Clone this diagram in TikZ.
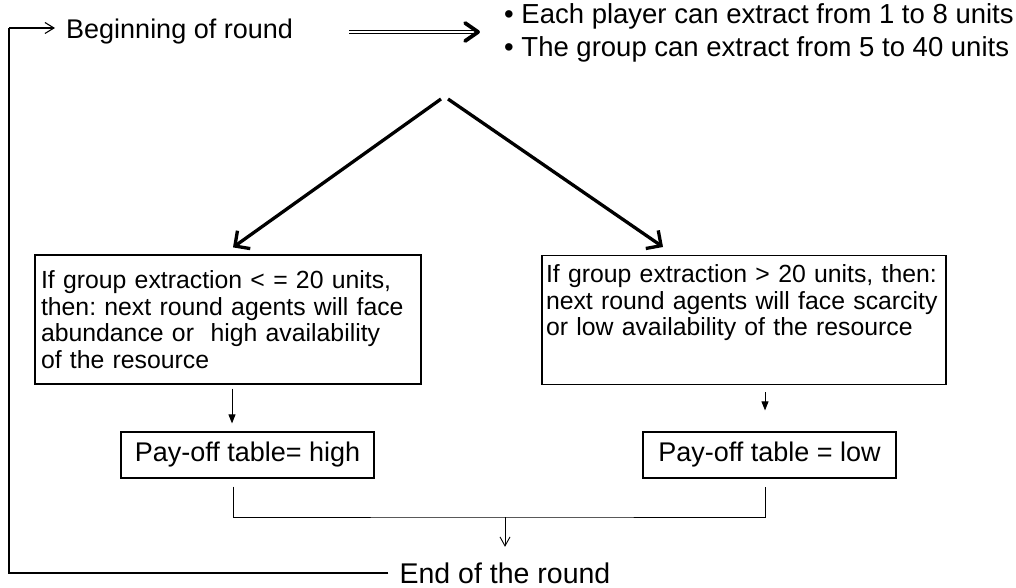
\documentclass[tikz,border=0pt]{standalone}
\usepackage{fontspec}
\setmainfont{Liberation Sans}
\usetikzlibrary{arrows.meta}

\begin{document}
\frenchspacing
\begin{tikzpicture}[x=1pt,y=-1pt,
	txt/.style={inner sep=0pt, font=\fontsize{27}{33}\selectfont},
	condbox/.style={draw, line width=1.2pt, inner xsep=6pt, align=left, font=\fontsize{24.8}{26.5}\selectfont},
	paybox/.style={draw, line width=1.2pt, inner sep=0pt, minimum width=253, minimum height=46, font=\fontsize{27}{33}\selectfont},
	loopline/.style={line width=1.1pt},
	bigarrow/.style={line width=3.3pt, -{Straight Barb[length=11pt,width=22pt]}},
	smallarrow/.style={line width=0.9pt, -{Triangle[length=9pt,width=7pt]}},
	openarrow/.style={line width=0.9pt, -{Straight Barb[length=9pt,width=10pt]}}]
	\useasboundingbox (0,0) rectangle (1016,588);

	%Define the corners of the feedback loop
	\pgfmathsetmacro{\loopx}{9}
	\pgfmathsetmacro{\looptop}{28}
	\pgfmathsetmacro{\loopbot}{573}
	\coordinate (looptop) at (\loopx,\looptop);
	\coordinate (loopbot) at (\loopx,\loopbot);

	%Define the start of the two branches and the joining point
	\coordinate (forkL) at (441,99);
	\coordinate (forkR) at (448,99);
	\coordinate (join) at (505,517);

	%Top row
	\node[txt, anchor=west] (begin) at (66,32) {Beginning of round};
	\node[txt, anchor=west, align=left, font=\fontsize{27.5}{33}\selectfont] (rules) at (504,33)
		{• Each player can extract from 1 to 8 units\\• The group can extract from 5 to 40 units};

	%The two conditions
	\node[condbox, text width=374, minimum height=129] (lbox) at (228,319.5)
		{If group extraction < = 20 units,\\then: next round agents will face\\abundance or~ high availability\\of the resource};
	\node[condbox, text width=396, inner xsep=4pt, inner ysep=9pt, text height=18.3pt, text depth=92.5pt, anchor=north] (rbox) at (744,255)
		{If group extraction > 20 units, then:\\next round agents will face scarcity\\or low availability of the resource};

	%The pay-off tables
	\node[paybox] (lhigh) at (247.5,455) {Pay-off table= high};
	\node[paybox] (rlow) at (769.5,455) {Pay-off table = low};

	\node[txt, font=\fontsize{28.5}{33}\selectfont] (end) at (505,573.5) {End of the round};

	%Arrows
	\coordinate (dtip) at ([xshift=185pt]begin.east);
	\draw[double, line width=1.8pt, double distance=1.3pt] ([xshift=56pt]begin.east) -- ([xshift=-4pt]dtip);
	\draw[line width=3.8pt, line cap=round, line join=round] ([xshift=-13pt,yshift=9pt]dtip) -- (dtip) -- ([xshift=-13pt,yshift=-9pt]dtip);
	\draw[bigarrow] (forkL) -- ([xshift=5pt,yshift=7pt]lbox.north);
	\draw[bigarrow] (forkR) -- ([xshift=-81pt,yshift=8pt]rbox.north);
	\draw[smallarrow, shorten >=8pt] ([xshift=4pt,yshift=-4pt]lbox.south) -- ([xshift=4pt]lbox.south |- lhigh.north);
	\draw[smallarrow, shorten >=21pt] ([xshift=21pt,yshift=-7pt]rbox.south) -- ([xshift=21pt]rbox.south |- rlow.north);

	%Joining lines and the loop back
	\draw[line width=0.9pt] ([xshift=-14.5pt,yshift=-8pt]lhigh.south) |- (join) -| ([xshift=-4.5pt,yshift=-8pt]rlow.south);
	\draw[openarrow, shorten >=16pt] (join) -- (end.north);
	\draw[loopline] ([xshift=-11pt]end.west |- loopbot) -- (loopbot) -- (looptop);
	\draw[loopline, -{Straight Barb[length=9pt,width=11pt]}, shorten >=11pt] (looptop) -- (looptop -| begin.west);

\end{tikzpicture}
\end{document}
